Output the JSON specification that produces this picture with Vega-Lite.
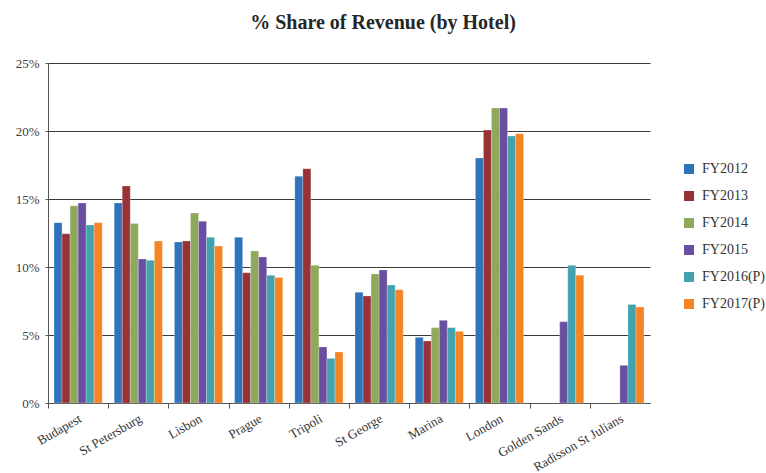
{
  "$schema": "https://vega.github.io/schema/vega-lite/v6.json",
  "width": 602,
  "height": 340,
  "autosize": "none",
  "padding": {"left": 48, "top": 63, "right": 116, "bottom": 70},
  "background": "white",
  "title": {
    "text": "% Share of Revenue (by Hotel)",
    "anchor": "middle",
    "frame": "group",
    "dx": 34,
    "offset": 24,
    "font": "Liberation Serif",
    "fontSize": 20,
    "fontWeight": "bold",
    "color": "#262626"
  },
  "data": {
    "values": [
      {"hotel": "Budapest", "year": "FY2012", "value": 13.26},
      {"hotel": "Budapest", "year": "FY2013", "value": 12.45},
      {"hotel": "Budapest", "year": "FY2014", "value": 14.5},
      {"hotel": "Budapest", "year": "FY2015", "value": 14.7},
      {"hotel": "Budapest", "year": "FY2016(P)", "value": 13.09},
      {"hotel": "Budapest", "year": "FY2017(P)", "value": 13.26},
      {"hotel": "St Petersburg", "year": "FY2012", "value": 14.7},
      {"hotel": "St Petersburg", "year": "FY2013", "value": 15.96},
      {"hotel": "St Petersburg", "year": "FY2014", "value": 13.19},
      {"hotel": "St Petersburg", "year": "FY2015", "value": 10.59},
      {"hotel": "St Petersburg", "year": "FY2016(P)", "value": 10.49},
      {"hotel": "St Petersburg", "year": "FY2017(P)", "value": 11.91},
      {"hotel": "Lisbon", "year": "FY2012", "value": 11.84},
      {"hotel": "Lisbon", "year": "FY2013", "value": 11.91},
      {"hotel": "Lisbon", "year": "FY2014", "value": 13.97},
      {"hotel": "Lisbon", "year": "FY2015", "value": 13.36},
      {"hotel": "Lisbon", "year": "FY2016(P)", "value": 12.18},
      {"hotel": "Lisbon", "year": "FY2017(P)", "value": 11.54},
      {"hotel": "Prague", "year": "FY2012", "value": 12.18},
      {"hotel": "Prague", "year": "FY2013", "value": 9.58},
      {"hotel": "Prague", "year": "FY2014", "value": 11.18},
      {"hotel": "Prague", "year": "FY2015", "value": 10.74},
      {"hotel": "Prague", "year": "FY2016(P)", "value": 9.39},
      {"hotel": "Prague", "year": "FY2017(P)", "value": 9.22},
      {"hotel": "Tripoli", "year": "FY2012", "value": 16.67},
      {"hotel": "Tripoli", "year": "FY2013", "value": 17.23},
      {"hotel": "Tripoli", "year": "FY2014", "value": 10.12},
      {"hotel": "Tripoli", "year": "FY2015", "value": 4.12},
      {"hotel": "Tripoli", "year": "FY2016(P)", "value": 3.28},
      {"hotel": "Tripoli", "year": "FY2017(P)", "value": 3.75},
      {"hotel": "St George", "year": "FY2012", "value": 8.14},
      {"hotel": "St George", "year": "FY2013", "value": 7.87},
      {"hotel": "St George", "year": "FY2014", "value": 9.49},
      {"hotel": "St George", "year": "FY2015", "value": 9.78},
      {"hotel": "St George", "year": "FY2016(P)", "value": 8.68},
      {"hotel": "St George", "year": "FY2017(P)", "value": 8.33},
      {"hotel": "Marina", "year": "FY2012", "value": 4.83},
      {"hotel": "Marina", "year": "FY2013", "value": 4.56},
      {"hotel": "Marina", "year": "FY2014", "value": 5.54},
      {"hotel": "Marina", "year": "FY2015", "value": 6.08},
      {"hotel": "Marina", "year": "FY2016(P)", "value": 5.54},
      {"hotel": "Marina", "year": "FY2017(P)", "value": 5.27},
      {"hotel": "London", "year": "FY2012", "value": 18.01},
      {"hotel": "London", "year": "FY2013", "value": 20.07},
      {"hotel": "London", "year": "FY2014", "value": 21.69},
      {"hotel": "London", "year": "FY2015", "value": 21.69},
      {"hotel": "London", "year": "FY2016(P)", "value": 19.63},
      {"hotel": "London", "year": "FY2017(P)", "value": 19.8},
      {"hotel": "Golden Sands", "year": "FY2015", "value": 5.98},
      {"hotel": "Golden Sands", "year": "FY2016(P)", "value": 10.12},
      {"hotel": "Golden Sands", "year": "FY2017(P)", "value": 9.39},
      {"hotel": "Radisson St Julians", "year": "FY2015", "value": 2.77},
      {"hotel": "Radisson St Julians", "year": "FY2016(P)", "value": 7.25},
      {"hotel": "Radisson St Julians", "year": "FY2017(P)", "value": 7.06}
    ]
  },
  "mark": {"type": "bar", "stroke": "white", "strokeWidth": 0.4, "strokeOpacity": 0.6},
  "encoding": {
    "x": {
      "field": "hotel",
      "type": "nominal",
      "sort": null,
      "scale": {"paddingInner": 0.2, "paddingOuter": 0.1},
      "axis": {
        "title": null,
        "labelAngle": -30,
        "labelAlign": "right",
        "labelBaseline": "top",
        "labelFont": "Liberation Serif",
        "labelFontSize": 13,
        "labelColor": "#333333",
        "labelPadding": 4,
        "labelOffset": 29,
        "domainColor": "#555555",
        "tickColor": "#555555",
        "tickSize": 5,
        "tickOffset": -30.1,
        "grid": false
      }
    },
    "xOffset": {
      "field": "year",
      "type": "nominal",
      "scale": {"domain": ["FY2012", "FY2013", "FY2014", "FY2015", "FY2016(P)", "FY2017(P)"], "paddingInner": 0, "paddingOuter": 0}
    },
    "y": {
      "field": "value",
      "type": "quantitative",
      "scale": {"domain": [0, 25], "nice": false},
      "axis": {
        "title": null,
        "values": [0, 5, 10, 15, 20, 25],
        "labelExpr": "datum.value + '%'",
        "labelFont": "Liberation Serif",
        "labelFontSize": 13,
        "labelColor": "#404040",
        "labelPadding": 6,
        "domainColor": "#555555",
        "tickColor": "#555555",
        "tickSize": 3,
        "grid": true,
        "gridColor": "#3a3a3a",
        "gridWidth": 1
      }
    },
    "color": {
      "field": "year",
      "type": "nominal",
      "scale": {
        "domain": ["FY2012", "FY2013", "FY2014", "FY2015", "FY2016(P)", "FY2017(P)"],
        "range": ["#2F74BA", "#973237", "#8EA95C", "#6A4FA0", "#42A3AF", "#F58426"]
      },
      "legend": {
        "title": null,
        "orient": "none",
        "legendX": 634,
        "legendY": 99,
        "padding": 0,
        "symbolType": "square",
        "symbolSize": 100,
        "symbolStrokeWidth": 0,
        "labelFont": "Liberation Serif",
        "labelFontSize": 14,
        "labelColor": "#333333",
        "labelOffset": 6,
        "labelLimit": 80,
        "rowPadding": 13
      }
    }
  },
  "config": {"view": {"stroke": null}}
}
